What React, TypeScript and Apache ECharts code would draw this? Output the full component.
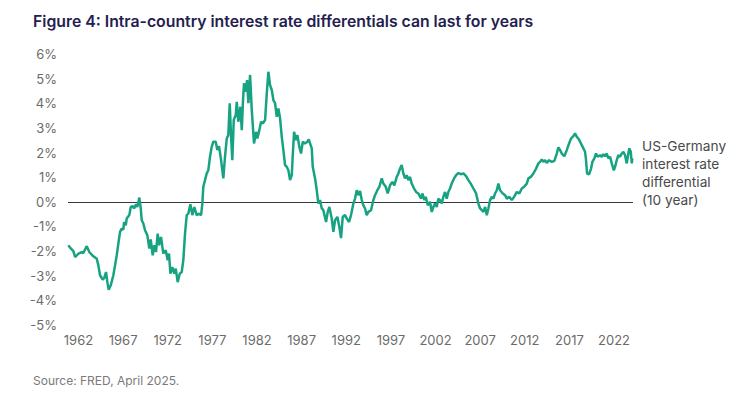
import React, { useEffect, useRef } from "react";
import * as echarts from "echarts";

const title = "Figure 4: Intra-country interest rate differentials can last for years";
const sourceNote = "Source: FRED, April 2025.";
const seriesLabel = ["US-Germany", "interest rate", "differential", "(10 year)"];

const xTickYears = [1962, 1967, 1972, 1977, 1982, 1987, 1992, 1997, 2002, 2007, 2012, 2017, 2022];
const yTicks = [-5, -4, -3, -2, -1, 0, 1, 2, 3, 4, 5, 6];

// decimal year
const dates = [
  1962.04, 1962.23, 1962.6, 1962.79, 1962.98, 1963.18, 1963.54, 1963.72, 1964.1, 1964.39,
  1964.84, 1965.22, 1965.4, 1965.59, 1965.89, 1966.07, 1966.26, 1966.41, 1966.56, 1966.79,
  1967.08, 1967.27, 1967.46, 1967.64, 1967.83, 1968.02, 1968.2, 1968.28, 1968.47, 1968.58,
  1968.87, 1969.03, 1969.25, 1969.4, 1969.62, 1969.77, 1969.99, 1970.15, 1970.26, 1970.44,
  1970.63, 1970.89, 1971.11, 1971.27, 1971.49, 1971.67, 1971.86, 1972.05, 1972.2, 1972.42,
  1972.68, 1972.95, 1973.17, 1973.32, 1973.47, 1973.69, 1973.91, 1974.07, 1974.29, 1974.52,
  1974.74, 1974.92, 1975.11, 1975.3, 1975.48, 1975.71, 1975.93, 1976.15, 1976.42, 1976.68,
  1976.91, 1977.05, 1977.16, 1977.35, 1977.54, 1977.72, 1977.91, 1978.1, 1978.28, 1978.55,
  1978.73, 1978.92, 1979.15, 1979.4, 1979.59, 1979.79, 1979.96, 1980.12, 1980.27, 1980.41,
  1980.57, 1980.79, 1980.91, 1981.08, 1981.31, 1981.47, 1981.61, 1981.72, 1981.91, 1982.06,
  1982.21, 1982.4, 1982.59, 1982.84, 1983.07, 1983.21, 1983.44, 1983.63, 1983.82, 1984.08,
  1984.27, 1984.45, 1984.64, 1984.83, 1985.01, 1985.2, 1985.39, 1985.57, 1985.76, 1985.95,
  1986.13, 1986.32, 1986.51, 1986.69, 1986.88, 1987.07, 1987.18, 1987.33, 1987.52, 1987.7,
  1987.92, 1988.11, 1988.3, 1988.56, 1988.82, 1988.97, 1989.12, 1989.31, 1989.42, 1989.68,
  1989.87, 1990.05, 1990.24, 1990.43, 1990.61, 1990.91, 1991.1, 1991.28, 1991.55, 1991.73,
  1991.92, 1992.18, 1992.4, 1992.59, 1992.78, 1993.04, 1993.23, 1993.49, 1993.71, 1993.97,
  1994.16, 1994.35, 1994.53, 1994.72, 1994.91, 1995.09, 1995.28, 1995.47, 1995.65, 1995.95,
  1996.21, 1996.4, 1996.66, 1996.88, 1997.15, 1997.33, 1997.6, 1997.82, 1998.08, 1998.34,
  1998.56, 1998.83, 1999.01, 1999.2, 1999.39, 1999.57, 1999.76, 1999.95, 2000.13, 2000.32,
  2000.51, 2000.77, 2001.0, 2001.25, 2001.56, 2001.7, 2001.93, 2002.08, 2002.31, 2002.56,
  2002.75, 2002.93, 2003.12, 2003.31, 2003.49, 2003.68, 2003.87, 2004.05, 2004.24, 2004.43,
  2004.61, 2004.8, 2004.99, 2005.25, 2005.48, 2005.74, 2006.0, 2006.3, 2006.6, 2006.86,
  2007.12, 2007.42, 2007.72, 2007.98, 2008.17, 2008.36, 2008.54, 2008.73, 2008.92, 2009.1,
  2009.29, 2009.48, 2009.66, 2009.85, 2010.04, 2010.22, 2010.41, 2010.71, 2010.97, 2011.16,
  2011.45, 2011.72, 2011.98, 2012.28, 2012.57, 2012.84, 2013.1, 2013.4, 2013.58, 2013.85,
  2014.14, 2014.44, 2014.7, 2014.89, 2015.08, 2015.26, 2015.45, 2015.64, 2015.9, 2016.2,
  2016.49, 2016.76, 2016.94, 2017.13, 2017.32, 2017.61, 2017.88, 2018.14, 2018.36, 2018.62,
  2018.81, 2019.0, 2019.18, 2019.37, 2019.56, 2019.74, 2019.93, 2020.04, 2020.15, 2020.38,
  2020.6, 2020.75, 2020.97, 2021.16, 2021.35, 2021.61, 2021.8, 2021.98, 2022.17, 2022.36,
  2022.54, 2022.73, 2022.92, 2023.15, 2023.29, 2023.48, 2023.66, 2023.85, 2024.04, 2024.22,
  2024.41, 2024.6, 2024.78, 2024.89, 2025.05, 2025.16, 2025.23,
];

// US minus Germany 10-year yield, percentage points
const spread = [
  -1.76, -1.86, -2.0, -2.24, -2.17, -2.1, -2.04, -2.08, -1.8, -2.04,
  -2.21, -2.31, -2.58, -2.98, -3.16, -3.08, -2.85, -3.26, -3.57, -3.39,
  -2.98, -2.58, -2.17, -1.7, -1.22, -1.09, -1.13, -0.82, -0.95, -0.68,
  -0.54, -0.21, -0.18, -0.27, -0.1, -0.21, 0.17, -0.27, -0.75, -0.88,
  -1.15, -1.36, -1.9, -1.53, -2.17, -1.76, -2.04, -1.29, -1.76, -1.43,
  -2.1, -1.97, -2.37, -2.1, -2.92, -2.65, -2.92, -2.71, -3.26, -2.92,
  -2.85, -2.37, -1.29, -0.54, -0.48, -0.1, -0.54, -0.21, -0.54, -0.48,
  -0.54, -0.07, 0.61, 0.88, 1.15, 1.28, 1.83, 2.23, 2.44, 2.44,
  2.1, 2.26, 1.69, 0.95, 1.83, 2.57, 2.71, 4.0, 2.64, 1.69,
  3.32, 3.52, 4.06, 3.25, 3.86, 2.91, 4.13, 4.81, 4.47, 4.94,
  4.0, 5.15, 3.72, 2.37, 2.84, 2.57, 2.91, 3.25, 3.18, 3.32,
  4.4, 5.28, 4.74, 4.54, 4.13, 4.0, 3.45, 3.79, 3.39, 2.64,
  2.1, 1.49, 1.42, 1.28, 0.88, 1.08, 1.89, 2.84, 2.5, 2.71,
  2.23, 1.96, 2.44, 2.37, 2.44, 2.53, 2.37, 2.17, 1.42, 0.95,
  0.47, -0.07, 0.07, -0.27, -0.34, -0.82, -0.41, -0.21, -0.68, -1.22,
  -0.75, -0.61, -1.02, -1.47, -0.61, -0.54, -0.68, -0.82, -0.54, -0.07,
  0.13, 0.47, 0.27, 0.44, 0.07, -0.14, -0.27, -0.54, -0.41, -0.34,
  0.07, 0.27, 0.47, 0.61, 0.95, 0.74, 0.61, 0.34, 0.67, 0.81,
  0.67, 1.01, 1.15, 1.35, 1.49, 1.15, 0.95, 1.08, 0.88, 1.01,
  0.74, 0.54, 0.4, 0.34, 0.13, 0.34, 0.07, 0.2, -0.14, 0.0,
  -0.41, -0.21, -0.07, -0.21, 0.13, 0.07, -0.07, 0.2, 0.4, 0.13,
  0.4, 0.54, 0.74, 0.95, 1.08, 1.17, 1.12, 1.15, 1.04, 0.88,
  0.74, 0.54, 0.34, -0.07, -0.27, -0.34, -0.41, -0.21, -0.54, -0.27,
  0.07, 0.2, 0.13, 0.34, 0.47, 0.74, 0.47, 0.34, 0.27, 0.13,
  0.2, 0.07, 0.2, 0.4, 0.34, 0.54, 0.61, 0.74, 0.95, 1.01,
  1.15, 1.35, 1.56, 1.62, 1.72, 1.62, 1.69, 1.58, 1.69, 1.62,
  1.66, 1.96, 2.21, 2.1, 1.96, 1.85, 2.1, 2.37, 2.57, 2.67,
  2.78, 2.64, 2.57, 2.44, 2.3, 2.17, 2.03, 1.69, 1.15, 1.12,
  1.35, 1.62, 1.76, 1.96, 1.83, 1.89, 1.83, 1.93, 1.85, 1.96,
  1.76, 1.83, 1.56, 1.28, 1.42, 1.69, 1.89, 1.83, 1.96, 2.03,
  1.89, 1.56, 1.96, 2.17, 2.03, 1.56, 1.76,
];

const FONT = "Inter, 'Noto Sans', sans-serif";

export default function App() {
  const ref = useRef<HTMLDivElement>(null);

  useEffect(() => {
    document.body.style.margin = "0";
    if (!ref.current) return;
    const chart = echarts.init(ref.current, null, { renderer: "svg" });
    const data = dates.map((d, i) => [d, spread[i]]);
    chart.setOption({
      animation: false,
      backgroundColor: "#ffffff",
      textStyle: { fontFamily: FONT },
      grid: { left: 68, right: 112, top: 54, bottom: 71 },
      title: [
        {
          text: title,
          left: 28,
          top: 8,
          textStyle: { fontFamily: FONT, fontSize: 15.8, fontWeight: 600, color: "#23204f" },
        },
        {
          text: sourceNote,
          left: 28,
          top: 369,
          textStyle: { fontFamily: FONT, fontSize: 12, fontWeight: 400, color: "#7a7a7a" },
        },
      ],
      graphic: [
        {
          type: "text",
          left: 642,
          top: 137,
          style: {
            text: seriesLabel.join("\n"),
            font: `13.7px ${FONT}`,
            lineHeight: 18,
            fill: "#4a4a4a",
          },
        },
      ],
      xAxis: {
        type: "value",
        min: 1962,
        max: 2025.3,
        axisLine: { show: false },
        axisTick: { show: false },
        splitLine: { show: false },
        axisLabel: {
          customValues: xTickYears,
          formatter: (v: number) => String(Math.round(v)),
          color: "#6b6b6b",
          fontSize: 13,
          fontFamily: FONT,
          margin: 8,
          padding: [0, 0, 0, 21],
        },
      },
      yAxis: {
        type: "value",
        min: -5,
        max: 6,
        interval: 1,
        axisLine: { show: false },
        axisTick: { show: false },
        splitLine: { show: false },
        axisLabel: {
          customValues: yTicks,
          formatter: (v: number) => `${v}%`,
          color: "#6b6b6b",
          fontSize: 13,
          fontFamily: FONT,
          margin: 11,
        },
      },
      series: [
        {
          type: "line",
          data,
          showSymbol: false,
          symbol: "none",
          lineStyle: { color: "#17a382", width: 2.5 },
          z: 3,
          markLine: {
            silent: true,
            symbol: "none",
            label: { show: false },
            lineStyle: { color: "#3a3a3a", width: 1, type: "solid" },
            data: [{ yAxis: 0 }],
            z: 2,
          },
        },
      ],
    });
    return () => chart.dispose();
  }, []);

  return <div ref={ref} style={{ width: 745, height: 396 }} />;
}
